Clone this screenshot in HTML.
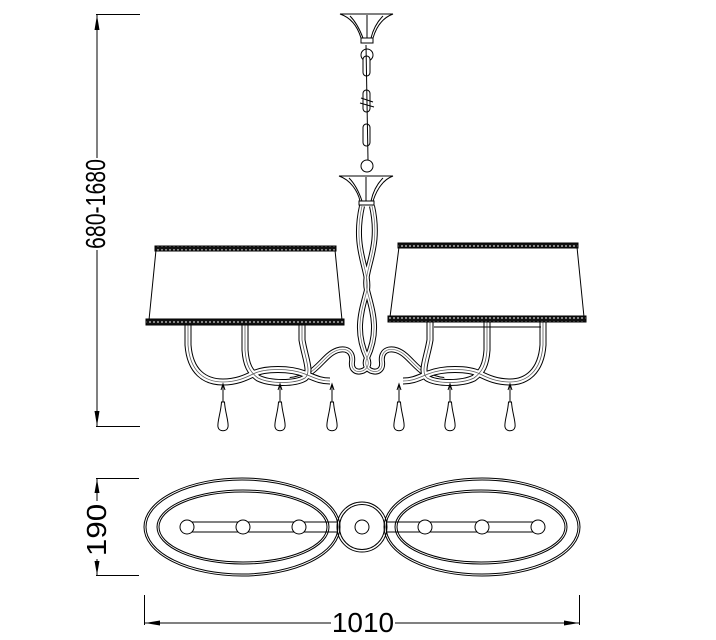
<!DOCTYPE html>
<html><head><meta charset="utf-8"><style>
html,body{margin:0;padding:0;background:#fff;width:716px;height:640px;overflow:hidden}
svg{display:block}
text{font-family:"Liberation Sans",Arial,sans-serif;fill:#000}
</style></head><body>
<svg width="716" height="640" viewBox="0 0 716 640" xmlns="http://www.w3.org/2000/svg">
<defs>
<pattern id="trim" width="4" height="4" patternUnits="userSpaceOnUse">
<rect width="4" height="4" fill="#111"/><circle cx="2" cy="2" r="1" fill="#aaa"/>
</pattern>
<g id="drop" fill="none" stroke="#000" stroke-width="1">
<line x1="0" y1="0" x2="0" y2="18"/>
<path d="M-1.5 18 C-2 28 -6 38 -5 43 C-4 48 4 48 5 43 C6 38 2 28 1.5 18 Z" fill="#fff"/>
<path d="M-2 6 L0 0 L2 6" />
</g>
</defs>

<!-- dimension 680-1680 -->
<g stroke="#000" stroke-width="1" fill="none">
<line x1="96" y1="14.5" x2="140" y2="14.5"/>
<line x1="96" y1="426.5" x2="140" y2="426.5"/>
<line x1="97" y1="15" x2="97" y2="158"/>
<line x1="97" y1="250" x2="97" y2="426"/>
</g>
<path d="M97 15 L94.5 30 L99.5 30 Z M97 426 L94.5 411 L99.5 411 Z" fill="#000"/>
<text x="0" y="0" font-size="28" text-anchor="middle" transform="translate(105 204) rotate(-90) scale(0.76 1)">680-1680</text>

<!-- dimension 190 -->
<g stroke="#000" stroke-width="1" fill="none">
<line x1="96" y1="478.5" x2="139" y2="478.5"/>
<line x1="96" y1="575.5" x2="139" y2="575.5"/>
<line x1="97" y1="479" x2="97" y2="501"/>
<line x1="97" y1="559" x2="97" y2="575"/>
</g>
<path d="M97 479 L94.5 493 L99.5 493 Z M97 575 L94.5 561 L99.5 561 Z" fill="#000"/>
<text x="0" y="0" font-size="28" text-anchor="middle" transform="translate(106 530) rotate(-90) scale(1.12 1)">190</text>

<!-- dimension 1010 -->
<g stroke="#000" stroke-width="1" fill="none">
<line x1="144.5" y1="595" x2="144.5" y2="625"/>
<line x1="579.5" y1="595" x2="579.5" y2="625"/>
<line x1="145" y1="623" x2="331" y2="623"/>
<line x1="395" y1="623" x2="579" y2="623"/>
</g>
<path d="M145 623 L160 620.5 L160 625.5 Z M579 623 L564 620.5 L564 625.5 Z" fill="#000"/>
<text x="363" y="632" font-size="28" text-anchor="middle">1010</text>

<!-- canopy top -->
<g stroke="#000" stroke-width="1" fill="#fff">
<path d="M340 14 L393 14 C382 18 376 28 373 38 L361 38 C358 28 352 18 340 14 Z"/>
<path d="M350 16 C356 22 360 30 363 38 M383 16 C377 22 373 30 371 38 M367 15 L367 38" fill="none"/>
<rect x="361" y="38" width="12" height="5"/>
<circle cx="367" cy="55" r="6"/>
<rect x="363" y="56" width="7" height="20" rx="3.5"/>
<rect x="363" y="90" width="7" height="22" rx="3.5"/>
<path d="M361 98 L373 102 M360 103 L374 107" fill="none"/>
<rect x="363" y="124" width="7" height="22" rx="3.5"/>
<line x1="366" y1="45" x2="368" y2="160"/>
<circle cx="367" cy="166" r="6" fill="none"/>
<path d="M339 176 L393 176 C382 180 376 192 373 201 L360 201 C358 192 351 180 339 176 Z"/>
<path d="M349 178 C355 184 359 192 362 201 M383 178 C377 184 373 192 371 201 M366 177 L366 201" fill="none"/>
<rect x="359" y="201" width="15" height="4"/>
</g>

<!-- stem strands -->
<g fill="none">
<g stroke="#000" stroke-width="6">
<path d="M362 206 C352 250 370 270 367 290 C362 310 354 330 367 358 C374 372 350 378 352 362 C354 348 340 345 328 356 C318 365 310 378 290 380"/>
<path d="M372 206 C382 250 362 270 367 290 C372 310 380 330 367 358 C360 372 384 378 382 362 C380 348 394 345 406 356 C416 365 424 378 444 380"/>
</g>
<g stroke="#fff" stroke-width="4">
<path d="M362 206 C352 250 370 270 367 290 C362 310 354 330 367 358 C374 372 350 378 352 362 C354 348 340 345 328 356 C318 365 310 378 290 380"/>
<path d="M372 206 C382 250 362 270 367 290 C372 310 380 330 367 358 C360 372 384 378 382 362 C380 348 394 345 406 356 C416 365 424 378 444 380"/>
</g>
<g stroke="#666" stroke-width="0.7">
<path d="M362 206 C352 250 370 270 367 290 C362 310 354 330 367 358 C374 372 350 378 352 362 C354 348 340 345 328 356 C318 365 310 378 290 380"/>
<path d="M372 206 C382 250 362 270 367 290 C372 310 380 330 367 358 C360 372 384 378 382 362 C380 348 394 345 406 356 C416 365 424 378 444 380"/>
</g>
</g>

<!-- arms -->
<g fill="none">
<g stroke="#000" stroke-width="7">
<path d="M188 322 L188 345 C190 372 205 382 223 382 C236 382 245 378 253 374 C265 368 290 368 305 374 C315 378 320 381 330 381"/>
<path d="M245 322 L245 350 C246 365 250 372 258 378 C270 384 295 384 305 378 C312 372 305 358 302 340 L302 322"/>
<path d="M543 322 L543 345 C541 372 526 382 510 382 C497 382 488 378 480 374 C468 368 443 368 428 374 C418 378 413 381 403 381"/>
<path d="M487 322 L487 350 C486 365 482 372 474 378 C462 384 437 384 427 378 C420 372 427 358 430 340 L430 322"/>
</g>
<g stroke="#fff" stroke-width="5">
<path d="M188 322 L188 345 C190 372 205 382 223 382 C236 382 245 378 253 374 C265 368 290 368 305 374 C315 378 320 381 330 381"/>
<path d="M245 322 L245 350 C246 365 250 372 258 378 C270 384 295 384 305 378 C312 372 305 358 302 340 L302 322"/>
<path d="M543 322 L543 345 C541 372 526 382 510 382 C497 382 488 378 480 374 C468 368 443 368 428 374 C418 378 413 381 403 381"/>
<path d="M487 322 L487 350 C486 365 482 372 474 378 C462 384 437 384 427 378 C420 372 427 358 430 340 L430 322"/>
</g>
<g stroke="#555" stroke-width="0.8">
<path d="M188 322 L188 345 C190 372 205 382 223 382 C236 382 245 378 253 374 C265 368 290 368 305 374 C315 378 320 381 330 381"/>
<path d="M245 322 L245 350 C246 365 250 372 258 378 C270 384 295 384 305 378 C312 372 305 358 302 340 L302 322"/>
<path d="M543 322 L543 345 C541 372 526 382 510 382 C497 382 488 378 480 374 C468 368 443 368 428 374 C418 378 413 381 403 381"/>
<path d="M487 322 L487 350 C486 365 482 372 474 378 C462 384 437 384 427 378 C420 372 427 358 430 340 L430 322"/>
</g>
<line x1="434" y1="327" x2="541" y2="327" stroke="#000" stroke-width="1"/>
</g>

<!-- shades -->
<g stroke="#000" stroke-width="1">
<path d="M156 250 L335 250 L342 320 L149 320 Z" fill="#fff"/>
<rect x="155" y="246" width="181" height="5" fill="url(#trim)"/>
<rect x="146" y="319" width="198" height="6" fill="url(#trim)"/>
<path d="M399 247 L577 247 L584 317 L390 317 Z" fill="#fff"/>
<rect x="398" y="243" width="180" height="5" fill="url(#trim)"/>
<rect x="388" y="316" width="198" height="6" fill="url(#trim)"/>
</g>

<!-- drops -->
<use href="#drop" x="223" y="384"/>
<use href="#drop" x="280" y="384"/>
<use href="#drop" x="332" y="384"/>
<use href="#drop" x="399" y="384"/>
<use href="#drop" x="450" y="384"/>
<use href="#drop" x="510" y="384"/>

<!-- plan view -->
<g fill="none" stroke="#000" stroke-width="1">
<ellipse cx="242" cy="527" rx="98" ry="49"/>
<ellipse cx="242" cy="527" rx="96" ry="47"/>
<ellipse cx="243" cy="527" rx="86" ry="37"/>
<ellipse cx="243" cy="527" rx="84" ry="35"/>
<ellipse cx="482" cy="527" rx="98" ry="49"/>
<ellipse cx="482" cy="527" rx="96" ry="47"/>
<ellipse cx="481" cy="527" rx="86" ry="37"/>
<ellipse cx="481" cy="527" rx="84" ry="35"/>
<circle cx="362" cy="527" r="25"/>
<circle cx="362" cy="527" r="22.5"/>
<circle cx="362" cy="527" r="7"/>
<line x1="187" y1="522" x2="338" y2="522"/>
<line x1="187" y1="532" x2="338" y2="532"/>
<line x1="386" y1="522" x2="538" y2="522"/>
<line x1="386" y1="532" x2="538" y2="532"/>
</g>
<g fill="#fff" stroke="#000" stroke-width="1">
<circle cx="187" cy="527" r="7"/>
<circle cx="243" cy="527" r="7"/>
<circle cx="299" cy="527" r="7"/>
<circle cx="425" cy="527" r="7"/>
<circle cx="482" cy="527" r="7"/>
<circle cx="538" cy="527" r="7"/>
</g>
</svg>
</body></html>
